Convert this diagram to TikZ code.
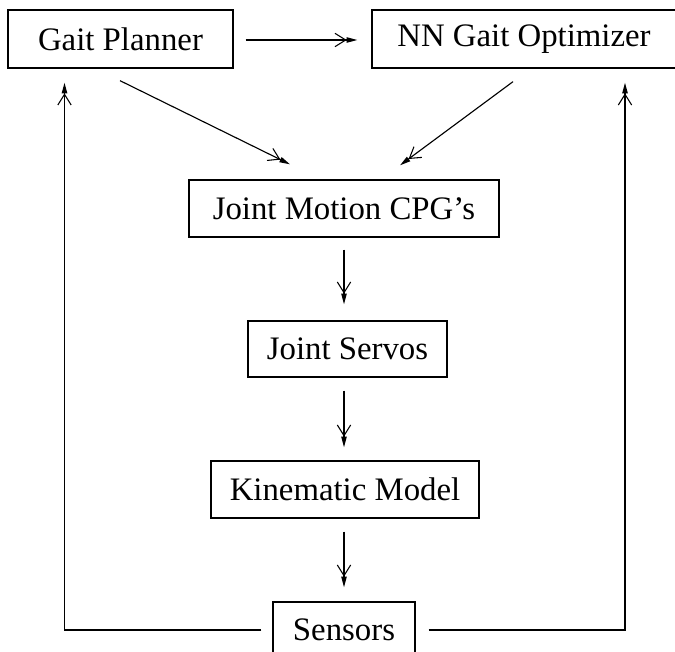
\documentclass[tikz,border=0pt]{standalone}
\usepackage{fontspec}
\setmainfont{Liberation Serif}
\usetikzlibrary{arrows.meta,calc}

\tikzset{
  block/.style={draw, line width=1pt, inner sep=0pt, anchor=center,
    font=\fontsize{24.6}{28}\selectfont},
  tip/.style={-{Straight Barb[length=8pt,width=10pt,line width=0.8pt]Triangle[length=8pt,width=4pt]}},
  flow/.style={line width=0.85pt, tip},
  loop/.style={line width=1pt, tip}
}

\begin{document}
\begin{tikzpicture}[x=0.75pt,y=-0.75pt]
  \useasboundingbox (0,0) rectangle (675,652);

  % boxes
  \node[block, minimum width=225*0.75pt, minimum height=58*0.75pt] (gp) at (120.5,39) {Gait Planner};
  \node[block, minimum width=304*0.75pt, minimum height=58*0.75pt] (nn) at (524,39) {NN Gait Optimizer};
  \node[block, minimum width=310*0.75pt, minimum height=57*0.75pt] (cpg) at (344,208.5) {Joint Motion CPG's};
  \node[block, minimum width=199*0.75pt, minimum height=56*0.75pt] (js) at (347.5,349) {Joint Servos};
  \node[block, minimum width=268*0.75pt, minimum height=57*0.75pt] (km) at (345,489.5) {Kinematic Model};
  \node[block, minimum width=142*0.75pt, minimum height=56*0.75pt] (sn) at (344,630) {Sensors};

  % forward path
  \draw[flow] ($(gp.east)+(12,1)$) -- ($(nn.west)+(-14,1)$);
  \draw[flow] ($(gp.south)+(-0.5,12)$) -- ($(cpg.north)+(-54,-15)$);
  \draw[flow] ($(nn.south)+(-11,13)$) -- ($(cpg.north)+(56,-14)$);
  \draw[flow] ($(cpg.south)+(0,12)$) -- ($(js.north)+(-3.5,-16)$);
  \draw[flow] ($(js.south)+(-3.5,13)$) -- ($(km.north)+(-1,-13)$);
  \draw[flow] ($(km.south)+(-1,13)$) -- ($(sn.north)+(0,-14)$);

  % feedback from the sensors
  \draw[loop] ($(sn.west)+(-11,0)$) -| ($(gp.south)+(-56,14)$);
  \draw[loop] ($(sn.east)+(13,0)$) -| ($(nn.south)+(101,14)$);
\end{tikzpicture}
\end{document}
